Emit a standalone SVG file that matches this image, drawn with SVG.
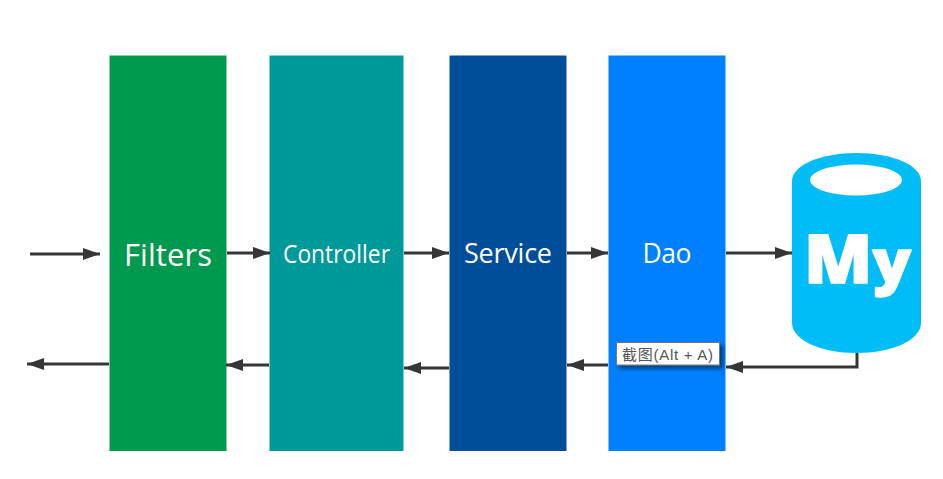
<svg xmlns="http://www.w3.org/2000/svg" width="943" height="479" viewBox="0 0 943 479">
<style>
.lbl{font-family:"Open Sans","Noto Sans",sans-serif;fill:#fff;text-anchor:middle}
.c{fill:none;stroke:#363636;stroke-width:3}
.my{font-family:"Open Sans",sans-serif;font-weight:800;fill:#fff;stroke:#fff;stroke-width:1.500;stroke-linejoin:round}
</style>
<defs>
<marker id="a" markerUnits="userSpaceOnUse" markerWidth="18" markerHeight="12" refX="17" refY="6" orient="auto"><path d="M0 0L17 6L0 12Z" fill="#363636"/></marker>
<filter id="s" x="-10%" y="-20%" width="125%" height="160%"><feDropShadow dx="3" dy="3" stdDeviation="2" flood-color="#000" flood-opacity=".55"/></filter>
</defs>
<rect width="943" height="479" fill="#fff"/>
<g id="filters"><rect x="109.500" y="55.500" width="117" height="395.500" fill="#009a4e"/><text class="lbl" x="168" y="266" font-size="31" textLength="88">Filters</text></g>
<g id="controller"><rect x="269.500" y="55.500" width="134" height="395.500" fill="#009999"/><text class="lbl" x="336.500" y="263" font-size="25" textLength="107" lengthAdjust="spacingAndGlyphs">Controller</text></g>
<g id="service"><rect x="449.500" y="55.500" width="117" height="395.500" fill="#004e99"/><text class="lbl" x="508" y="263" font-size="27" textLength="88">Service</text></g>
<g id="dao"><rect x="608.500" y="55.500" width="117" height="395.500" fill="#0080ff"/><text class="lbl" x="667" y="263" font-size="26.500" textLength="49">Dao</text></g>
<g id="mysql">
<path d="M792 181C792 165 821 153 856.500 153S921 165 921 181V323C921 340 892 353 856.500 353S792 340 792 323Z" fill="#00bdf7"/>
<ellipse cx="856" cy="180" rx="46" ry="15.500" fill="#fff"/>
<text class="my" x="804" y="282.500" font-size="67" textLength="107" lengthAdjust="spacingAndGlyphs">M<tspan font-size="60">y</tspan></text>
</g>
<g id="connectors">
<path class="c" marker-end="url(#a)" d="M30 254H100"/>
<path class="c" marker-end="url(#a)" d="M227 253H270"/>
<path class="c" marker-end="url(#a)" d="M404 253H449"/>
<path class="c" marker-end="url(#a)" d="M567 253H608"/>
<path class="c" marker-end="url(#a)" d="M726 253H792"/>
<path class="c" marker-end="url(#a)" d="M857 353V367H726"/>
<path class="c" marker-end="url(#a)" d="M608 365H567"/>
<path class="c" marker-end="url(#a)" d="M449 368H404"/>
<path class="c" marker-end="url(#a)" d="M269 365H226"/>
<path class="c" marker-end="url(#a)" d="M109 364H27"/>
</g>
<g id="tooltip">
<rect x="616.500" y="342.500" width="103" height="22.500" fill="#fff" stroke="#777" filter="url(#s)"/>
<text x="622" y="360" font-family="'Liberation Sans','Noto Sans CJK SC',sans-serif" font-size="15" fill="#555" textLength="91">截图(Alt + A)</text>
</g>
</svg>
